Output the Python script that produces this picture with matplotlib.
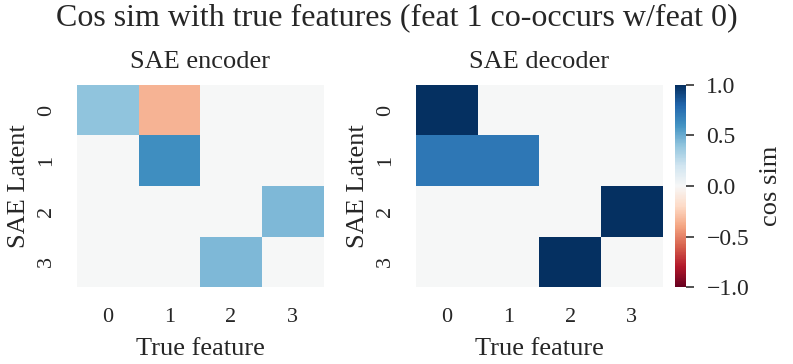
import numpy as np
import matplotlib
matplotlib.use("Agg")
import matplotlib.pyplot as plt
import seaborn as sns

# cos sim values (rows: SAE latent, cols: true feature)
features = [0, 1, 2, 3]
latents = [0, 1, 2, 3]
enc_sim = [
    [0.40, -0.35, 0.0, 0.0],
    [0.0, 0.62, 0.0, 0.0],
    [0.0, 0.0, 0.0, 0.45],
    [0.0, 0.0, 0.45, 0.0],
]
dec_sim = [
    [1.00, 0.0, 0.0, 0.0],
    [0.72, 0.72, 0.0, 0.0],
    [0.0, 0.0, 0.0, 1.00],
    [0.0, 0.0, 1.00, 0.0],
]

sns.set_theme(style="white")
plt.rcParams["font.family"] = ["Liberation Serif", "DejaVu Serif"]

fig = plt.figure(figsize=(7.93, 3.64), dpi=100)
ax1 = fig.add_axes([0.097, 0.2115, 0.311, 0.555])
ax2 = fig.add_axes([0.5246, 0.2115, 0.311, 0.555])
cax = fig.add_axes([0.851, 0.2115, 0.0135, 0.555])

sns.heatmap(np.array(enc_sim), ax=ax1, cmap="RdBu", vmin=-1, vmax=1, cbar=False,
            xticklabels=features, yticklabels=latents)
sns.heatmap(np.array(dec_sim), ax=ax2, cmap="RdBu", vmin=-1, vmax=1, cbar_ax=cax,
            xticklabels=features, yticklabels=latents,
            cbar_kws={"ticks": [-1, -0.5, 0, 0.5, 1]})

for ax, title in [(ax1, "SAE encoder"), (ax2, "SAE decoder")]:
    ax.set_title(title, fontsize=19, pad=12)
    ax.set_xlabel("True feature", fontsize=19, labelpad=8)
    ax.set_ylabel("SAE Latent", fontsize=19, labelpad=5)
    ax.tick_params(axis="x", labelsize=16, pad=15, length=0)
    ax.tick_params(axis="y", labelsize=16, rotation=90, pad=15, length=0)
    for lbl in ax.get_yticklabels():
        lbl.set_va("center")

cax.tick_params(labelsize=17, length=6, width=1.2, color="#333333", right=True, pad=9)
cax.set_yticklabels(["\u22121.0", "\u22120.5", "0.0", "0.5", "1.0"])
cax.set_ylabel("cos sim", fontsize=19, labelpad=8)

fig.suptitle("Cos sim with true features (feat 1 co-occurs w/feat 0)", fontsize=23, y=0.99)

fig.savefig("out.png", dpi=100)
